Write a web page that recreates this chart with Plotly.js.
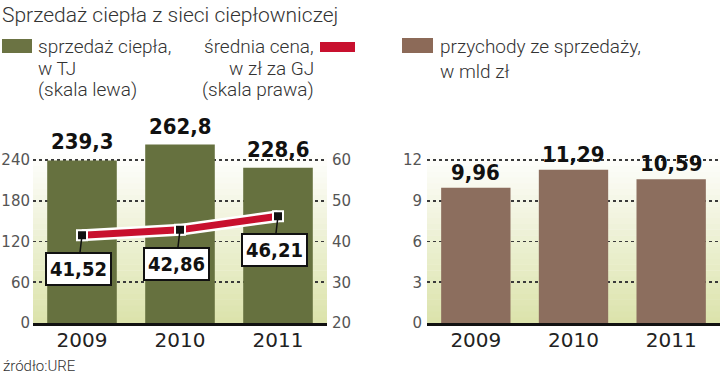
<!DOCTYPE html>
<html>
<head>
<meta charset="utf-8">
<script src="https://cdn.plot.ly/plotly-3.0.1.min.js"></script>
<style>
html,body{margin:0;padding:0;background:#fff;}
#chart{width:720px;height:375px;}
</style>
</head>
<body>
<div id="chart"></div>
<script>
// ---- data ----
const years = ['2009', '2010', '2011'];
const heatSales = [239.3, 262.8, 228.6];      // TJ, left scale
const avgPrice = [41.52, 42.86, 46.21];       // zł/GJ, right scale
const revenue = [9.96, 11.29, 10.59];         // mld zł
const leftTicks = [0, 60, 120, 180, 240];
const priceTicks = [20, 30, 40, 50, 60];
const revenueTicks = [0, 3, 6, 9, 12];

const titleText = 'Sprzedaż ciepła z sieci ciepłowniczej';
const sourceText = 'źródło:URE';

// ---- geometry helpers (pixel -> paper) ----
const W = 720, H = 375;
const px = v => v / W;
const py = v => 1 - v / H;

const plotTop = 110, plotBottom = 323;
const yDomain = [py(plotBottom), py(plotTop)];
const pxPerLeftUnit = (plotBottom - 160) / 240;
const leftMax = (plotBottom - plotTop) / pxPerLeftUnit;
const priceRange = [20, 20 + leftMax / 6];
const revMax = leftMax / 20;

const fmt = (v, d) => v.toFixed(d).replace('.', ',');

const labelFont = {family: '"DejaVu Sans Condensed", "DejaVu Sans", sans-serif', size: 22, color: '#111', weight: 'bold'};
const tickFont = {family: '"DejaVu Sans", sans-serif', size: 15, color: '#555'};
const yearFont = {family: '"DejaVu Sans", sans-serif', size: 20, color: '#222'};
const textFont = {family: 'Roboto, "Open Sans", sans-serif', size: 19, color: '#333', weight: 300};

// ---- traces ----
const traces = [
  {type: 'bar', x: years, y: heatSales, xaxis: 'x', yaxis: 'y',
   marker: {color: '#66713f', line: {width: 0}}, hoverinfo: 'skip', cliponaxis: false},
  {type: 'scatter', mode: 'lines', x: years, y: avgPrice, xaxis: 'x', yaxis: 'y2',
   line: {color: '#ffffff', width: 12}, hoverinfo: 'skip', cliponaxis: false},
  {type: 'scatter', mode: 'lines+markers', x: years, y: avgPrice, xaxis: 'x', yaxis: 'y2',
   line: {color: '#c8102e', width: 7},
   marker: {symbol: 'square', size: 10, color: '#111', line: {color: '#fff', width: 2}},
   hoverinfo: 'skip', cliponaxis: false},
  {type: 'bar', x: years, y: revenue, xaxis: 'x2', yaxis: 'y3',
   marker: {color: '#8c6e5e', line: {width: 0}}, hoverinfo: 'skip', cliponaxis: false}
];

// ---- background gradient shapes ----
const shapes = [];
function gradient(xref, yref) {
  const N = 30, top = 0.82;
  const c0 = [220, 227, 172], c1 = [255, 255, 255];
  for (let i = 0; i < N; i++) {
    const t = i / (N - 1);
    const c = c0.map((v, k) => Math.round(v + (c1[k] - v) * t));
    shapes.push({type: 'rect', xref: xref, yref: yref, x0: 0, x1: 1,
      y0: i / N * top, y1: (i + 1) / N * top + 0.002,
      fillcolor: 'rgb(' + c.join(',') + ')', line: {width: 0}, layer: 'below'});
  }
}
gradient('x domain', 'y domain');
gradient('x2 domain', 'y3 domain');

// legend swatches
shapes.push({type: 'rect', xref: 'paper', yref: 'paper', x0: px(2), x1: px(32), y0: py(53), y1: py(39),
  fillcolor: '#6b7343', line: {width: 0}});
shapes.push({type: 'rect', xref: 'paper', yref: 'paper', x0: px(320), x1: px(355), y0: py(52), y1: py(42),
  fillcolor: '#c8102e', line: {width: 0}});
shapes.push({type: 'rect', xref: 'paper', yref: 'paper', x0: px(402), x1: px(433), y0: py(53), y1: py(38),
  fillcolor: '#8c6a58', line: {width: 0}});

// ---- annotations (x given as category index) ----
const annotations = [];
years.forEach((yr, i) => {
  annotations.push({x: i, y: heatSales[i], xref: 'x', yref: 'y', text: fmt(heatSales[i], 1),
    showarrow: false, yanchor: 'bottom', yshift: 4, font: labelFont});
  annotations.push({x: i, y: revenue[i], xref: 'x2', yref: 'y3', text: fmt(revenue[i], 2),
    showarrow: false, yanchor: 'bottom', yshift: 1, font: labelFont});
  annotations.push({x: i, y: avgPrice[i], xref: 'x', yref: 'y2', text: fmt(avgPrice[i], 2),
    showarrow: true, arrowhead: 0, arrowwidth: 1.5, arrowcolor: '#111', ax: -4, ay: 34,
    bgcolor: '#fff', bordercolor: '#111', borderwidth: 2, borderpad: 3,
    font: {family: '"DejaVu Sans Condensed", "DejaVu Sans", sans-serif', size: 20, color: '#111', weight: 600}});
});

function txt(text, x, y, anchor) {
  annotations.push({xref: 'paper', yref: 'paper', x: px(x), y: py(y), text: text,
    showarrow: false, xanchor: anchor, yanchor: 'middle', font: textFont});
}
txt('sprzedaż ciepła,', 36, 47, 'left');
txt('w TJ', 36, 68, 'left');
txt('(skala lewa)', 36, 89, 'left');
txt('średnia cena,', 316, 47, 'right');
txt('w zł za GJ', 316, 68, 'right');
txt('(skala prawa)', 316, 89, 'right');
txt('przychody ze sprzedaży,', 438, 47, 'left');
txt('w mld zł', 438, 72, 'left');
annotations.push({xref: 'paper', yref: 'paper', x: px(1), y: py(366), text: sourceText,
  showarrow: false, xanchor: 'left', yanchor: 'middle',
  font: {family: 'Roboto, sans-serif', size: 15, color: '#333', weight: 300}});

const gridStyle = {showgrid: true, gridcolor: '#3a3a3a', gridwidth: 1.6, griddash: '3px,3px'};
const catRange = [-0.5, years.length - 0.5];

const layout = {
  width: W, height: H,
  margin: {l: 0, r: 0, t: 0, b: 0},
  paper_bgcolor: '#fff', plot_bgcolor: 'rgba(0,0,0,0)',
  showlegend: false,
  bargap: 0.29,
  separators: ', ',
  title: {text: titleText, xref: 'paper', yref: 'paper', x: px(2), xanchor: 'left',
    y: py(15), yanchor: 'middle', font: {family: 'Roboto, sans-serif', size: 21, color: '#333', weight: 300}},
  xaxis: {domain: [px(33), px(327)], anchor: 'y', type: 'category', range: catRange, showline: true, linecolor: '#111',
    linewidth: 3, ticks: '', tickfont: yearFont, showgrid: false, zeroline: false, fixedrange: true,
    ticklabelstandoff: -3},
  yaxis: Object.assign({domain: yDomain, anchor: 'x', range: [0, leftMax], tickvals: leftTicks,
    ticks: '', tickfont: tickFont, zeroline: false, showline: false, fixedrange: true,
    ticklabelstandoff: 2}, gridStyle),
  yaxis2: {overlaying: 'y', side: 'right', anchor: 'x', range: priceRange, tickvals: priceTicks,
    ticks: '', tickfont: tickFont, showgrid: false, zeroline: false, showline: false, fixedrange: true,
    ticklabelstandoff: 4},
  xaxis2: {domain: [px(427), 1], anchor: 'y3', type: 'category', range: catRange, showline: true, linecolor: '#111',
    linewidth: 3, ticks: '', tickfont: yearFont, showgrid: false, zeroline: false, fixedrange: true,
    ticklabelstandoff: -3},
  yaxis3: Object.assign({domain: yDomain, anchor: 'x2', range: [0, revMax], tickvals: revenueTicks,
    ticks: '', tickfont: tickFont, zeroline: false, showline: false, fixedrange: true,
    ticklabelstandoff: 4}, gridStyle),
  shapes: shapes,
  annotations: annotations
};

Plotly.newPlot('chart', traces, layout, {displayModeBar: false, staticPlot: true});
</script>
</body>
</html>
